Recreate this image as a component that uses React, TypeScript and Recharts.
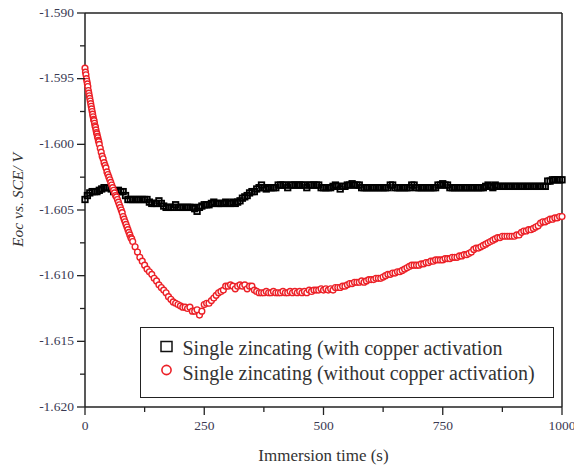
import React from "react";
import { ScatterChart, Scatter, XAxis, YAxis, Legend, Label } from "recharts";

// ---- Data ----
const xTicks = [0, 125, 250, 375, 500, 625, 750, 875, 1000];
const xTopTicks = [100, 200, 300, 400, 500, 600, 700, 800, 900];
const yTicks = [-1.62, -1.6175, -1.615, -1.6125, -1.61, -1.6075, -1.605, -1.6025, -1.6, -1.5975, -1.595, -1.5925, -1.59];
const seriesNames = [
  "Single zincating (with copper activation",
  "Single zincating (without copper activation)",
];

// black: with copper activation, sampled every 5 s from 0 s
const blackStart = 0;
const blackStep = 5;
const blackValues = [
  -1.6042, -1.6039, -1.6037, -1.6036, -1.6036, -1.6036, -1.6035, -1.6034, -1.6033, -1.6033, -1.6033, -1.6034, -1.6036, -1.6036, -1.6035, -1.6036, -1.6036, -1.6039, -1.6042, -1.6042,
  -1.6042, -1.6042, -1.6042, -1.6042, -1.6042, -1.6042, -1.6042, -1.6044, -1.6045, -1.6045, -1.6045, -1.6043, -1.6045, -1.6047, -1.6048, -1.6048, -1.6048, -1.6048, -1.6046, -1.6048,
  -1.6048, -1.6048, -1.6048, -1.6048, -1.6048, -1.6048, -1.6049, -1.6051, -1.6048, -1.6047, -1.6046, -1.6046, -1.6046, -1.6045, -1.6044, -1.6045, -1.6045, -1.6045, -1.6045, -1.6044,
  -1.6045, -1.6045, -1.6044, -1.6045, -1.6044, -1.6043, -1.6041, -1.604, -1.6039, -1.6037, -1.6036, -1.6036, -1.6034, -1.6033, -1.6031, -1.6033, -1.6034, -1.6033, -1.6033, -1.6033,
  -1.6033, -1.6031, -1.6031, -1.6031, -1.6031, -1.6033, -1.6031, -1.6031, -1.6031, -1.6031, -1.6031, -1.6031, -1.6031, -1.6033, -1.6031, -1.6031, -1.6031, -1.6031, -1.6031, -1.6033,
  -1.6033, -1.6033, -1.6033, -1.6033, -1.6032, -1.6031, -1.6032, -1.6034, -1.6032, -1.6032, -1.6031, -1.6031, -1.603, -1.6031, -1.6031, -1.6031, -1.6033, -1.6033, -1.6033, -1.6033,
  -1.6033, -1.6033, -1.6033, -1.6033, -1.6033, -1.6033, -1.6033, -1.6033, -1.6031, -1.6031, -1.6033, -1.6033, -1.6033, -1.6033, -1.6033, -1.6033, -1.6033, -1.6031, -1.6031, -1.6033,
  -1.6033, -1.6033, -1.6033, -1.6033, -1.6033, -1.6033, -1.6033, -1.6033, -1.6031, -1.6031, -1.603, -1.6031, -1.6031, -1.6033, -1.6033, -1.6033, -1.6033, -1.6033, -1.6033, -1.6033,
  -1.6033, -1.6033, -1.6033, -1.6033, -1.6033, -1.6033, -1.6033, -1.6033, -1.6032, -1.6031, -1.6032, -1.6033, -1.6031, -1.6032, -1.6032, -1.6032, -1.6032, -1.6032, -1.6032, -1.6032,
  -1.6032, -1.6032, -1.6032, -1.6032, -1.6032, -1.6032, -1.6032, -1.6032, -1.6032, -1.6032, -1.6032, -1.6032, -1.6032, -1.6032, -1.6028, -1.6028, -1.6027, -1.6027, -1.6027, -1.6027, -1.6027,
];

// red: without copper activation, three sampling segments
const redAStart = 0;
const redAStep = 1;
const redAValues = [
  -1.5942, -1.5945, -1.5947, -1.595, -1.5952, -1.5954, -1.5956, -1.5959, -1.5961, -1.5963,
  -1.5965, -1.5967, -1.5969, -1.5971, -1.5973, -1.5975, -1.5977, -1.5979, -1.5981, -1.5982,
  -1.5984, -1.5986, -1.5987, -1.5989, -1.5991, -1.5992, -1.5994, -1.5995, -1.5997, -1.5998,
];
const redBStart = 30;
const redBStep = 2;
const redBValues = [
  -1.6, -1.6003, -1.6006, -1.6009, -1.6011, -1.6014, -1.6016, -1.6018, -1.6021, -1.6023,
  -1.6025, -1.6027, -1.6029, -1.6031, -1.6033, -1.6035, -1.6037, -1.6039, -1.604, -1.6042,
  -1.6044, -1.6046, -1.6048, -1.605, -1.6052, -1.6055, -1.6057, -1.6059, -1.6061, -1.6063,
  -1.6065, -1.6067, -1.6069, -1.6071, -1.6072,
];
const redCStart = 100;
const redCStep = 5;
const redCValues = [
  -1.6074, -1.6078, -1.6082, -1.6086, -1.6089, -1.6092, -1.6095, -1.6097, -1.6099, -1.6102, -1.6104, -1.6107, -1.6109, -1.6111, -1.6113, -1.6116, -1.6118, -1.612, -1.6121, -1.6122,
  -1.6123, -1.6124, -1.6124, -1.6125, -1.6124, -1.6127, -1.6127, -1.6126, -1.613, -1.6127, -1.6122, -1.6121, -1.6121, -1.6119, -1.6117, -1.6115, -1.6113, -1.6112, -1.6111, -1.6108,
  -1.6108, -1.6107, -1.6108, -1.611, -1.6108, -1.6107, -1.6108, -1.6107, -1.611, -1.6108, -1.6108, -1.6111, -1.6112, -1.6113, -1.6113, -1.6113, -1.6112, -1.6113, -1.6113, -1.6112,
  -1.6113, -1.6113, -1.6113, -1.6112, -1.6113, -1.6113, -1.6112, -1.6113, -1.6112, -1.6113, -1.6112, -1.6113, -1.6112, -1.6113, -1.6111, -1.6112, -1.6111, -1.6111, -1.6111, -1.611,
  -1.6111, -1.611, -1.6111, -1.611, -1.6111, -1.6109, -1.6109, -1.6109, -1.6108, -1.6108, -1.6107, -1.6106, -1.6106, -1.6105, -1.6105, -1.6105, -1.6104, -1.6105, -1.6104, -1.6103,
  -1.6103, -1.6103, -1.6102, -1.6102, -1.6102, -1.6101, -1.61, -1.6099, -1.6099, -1.6098, -1.6098, -1.6097, -1.6097, -1.6096, -1.6095, -1.6094, -1.6093, -1.6092, -1.6092, -1.6092,
  -1.6092, -1.6091, -1.6091, -1.609, -1.609, -1.6089, -1.6089, -1.6088, -1.6088, -1.6088, -1.6088, -1.6087, -1.6087, -1.6087, -1.6086, -1.6086, -1.6086, -1.6085, -1.6085, -1.6084,
  -1.6084, -1.6083, -1.6082, -1.608, -1.6079, -1.6079, -1.6078, -1.6077, -1.6076, -1.6075, -1.6074, -1.6073, -1.6072, -1.6071, -1.6071, -1.607, -1.607, -1.607, -1.607, -1.607,
  -1.607, -1.6069, -1.6069, -1.6067, -1.6066, -1.6066, -1.6065, -1.6065, -1.6064, -1.6063, -1.6062, -1.606, -1.6059, -1.6059, -1.6058, -1.6057, -1.6057, -1.6056, -1.6056, -1.6055, -1.6055,
];

// ---- Build tables ----
const seg = (start: number, step: number, values: number[]) =>
  values.map((v, i) => ({ t: start + i * step, v }));
const blackData = seg(blackStart, blackStep, blackValues);
const redData = [
  ...seg(redAStart, redAStep, redAValues),
  ...seg(redBStart, redBStep, redBValues),
  ...seg(redCStart, redCStep, redCValues),
];

// ---- Styles ----
const FONT = "'Liberation Serif', 'Times New Roman', serif";
const AXIS = "#222";
const TICK_TEXT = "#3a3a52";
const RED = "#ec2027";

const XTick = (props: any) => {
  const { x, y, payload } = props;
  const v = payload.value;
  const major = v % 250 === 0;
  return (
    <g>
      <line x1={x} x2={x} y1={y} y2={y + (major ? 8 : 5)} stroke={AXIS} strokeWidth={1.3} />
      {major && (
        <text x={x} y={y + 23} textAnchor="middle" fontSize={13.5} fontFamily={FONT} fill={TICK_TEXT}>
          {v}
        </text>
      )}
    </g>
  );
};

const TopTick = (props: any) => {
  const { x, y } = props;
  return <line x1={x} x2={x} y1={y} y2={y + 7} stroke={AXIS} strokeWidth={1.3} />;
};

const YTick = (props: any) => {
  const { x, y, payload } = props;
  const v = payload.value;
  const major = Math.abs(v * 200 - Math.round(v * 200)) < 1e-6;
  return (
    <g>
      <line x1={x - (major ? 8 : 5)} x2={x} y1={y} y2={y} stroke={AXIS} strokeWidth={1.3} />
      {major && (
        <text x={x - 11} y={y + 3.5} textAnchor="end" fontSize={13.5} fontFamily={FONT} fill={TICK_TEXT}>
          {v.toFixed(3)}
        </text>
      )}
    </g>
  );
};

const RightTick = (props: any) => {
  const { x, y } = props;
  return <line x1={x - 6} x2={x} y1={y} y2={y} stroke={AXIS} strokeWidth={1.3} />;
};

const SquareShape = (props: any) => {
  const { cx, cy } = props;
  if (cx == null || cy == null) return <g />;
  return <rect x={cx - 2.75} y={cy - 2.75} width={5.5} height={5.5} fill="none" stroke="#000" strokeWidth={1.8} />;
};

const CircleShape = (props: any) => {
  const { cx, cy } = props;
  if (cx == null || cy == null) return <g />;
  return <circle cx={cx} cy={cy} r={2.9} fill="#fff" stroke={RED} strokeWidth={1.4} />;
};

const LegendBox = () => (
  <div
    style={{
      width: "100%",
      height: "100%",
      boxSizing: "border-box",
      border: "1.5px solid #222",
      background: "#fff",
    }}
  >
    <svg width={411} height={68} style={{ display: "block" }}>
      <rect x={20} y={13.5} width={11} height={10} fill="none" stroke="#111" strokeWidth={1.5} />
      <text x={41.5} y={26.5} fontSize={20} fontFamily={FONT} fill="#333">
        {seriesNames[0]}
      </text>
      <circle cx={25.5} cy={42} r={4.6} fill="none" stroke={RED} strokeWidth={1.6} />
      <text x={41.5} y={51.5} fontSize={20} fontFamily={FONT} fill="#333">
        {seriesNames[1]}
      </text>
    </svg>
  </div>
);

const YTitle = (props: any) => {
  const vb = props.viewBox;
  const cx = vb.x + 17;
  const cy = vb.y + vb.height / 2 - 10;
  return (
    <text
      x={cx}
      y={cy}
      transform={`rotate(-90 ${cx} ${cy})`}
      textAnchor="middle"
      dominantBaseline="central"
      fontSize={15.5}
      fontStyle="italic"
      fontFamily={FONT}
      fill="#333"
    >
      Eoc vs. SCE/ V
    </text>
  );
};

const XTitle = (props: any) => {
  const vb = props.viewBox;
  return (
    <text
      x={vb.x + vb.width / 2}
      y={vb.y + 54}
      textAnchor="middle"
      fontSize={17}
      fontFamily={FONT}
      fill="#333"
    >
      Immersion time (s)
    </text>
  );
};

export default function App() {
  return (
    <div style={{ position: "absolute", left: 0, top: 0, background: "#fff" }}>
      <ScatterChart width={574} height={468} margin={{ top: 13, right: 12, bottom: 0, left: 0 }}>
        <XAxis
          xAxisId={0}
          dataKey="t"
          type="number"
          domain={[0, 1000]}
          ticks={xTicks}
          interval={0}
          height={61}
          tickSize={0}
          tickMargin={0}
          tickLine={false}
          tick={XTick}
          axisLine={{ stroke: AXIS, strokeWidth: 1.5 }}
        >
          <Label content={XTitle} />
        </XAxis>
        <XAxis
          xAxisId="top"
          orientation="top"
          mirror
          type="number"
          domain={[0, 1000]}
          ticks={xTopTicks}
          interval={0}
          tickSize={0}
          tickMargin={0}
          tickLine={false}
          tick={TopTick}
          axisLine={{ stroke: AXIS, strokeWidth: 1.5 }}
        />
        <YAxis
          yAxisId={0}
          dataKey="v"
          type="number"
          domain={[-1.62, -1.59]}
          ticks={yTicks}
          interval={0}
          width={85}
          tickSize={0}
          tickMargin={0}
          tickLine={false}
          tick={YTick}
          axisLine={{ stroke: AXIS, strokeWidth: 1.5 }}
          allowDataOverflow
        >
          <Label content={YTitle} />
        </YAxis>
        <YAxis
          yAxisId="right"
          orientation="right"
          mirror
          type="number"
          domain={[-1.62, -1.59]}
          ticks={yTicks}
          interval={0}
          tickSize={0}
          tickMargin={0}
          tickLine={false}
          tick={RightTick}
          axisLine={{ stroke: AXIS, strokeWidth: 1.5 }}
        />
        <Scatter
          name={seriesNames[0]}
          data={blackData}
          xAxisId={0}
          yAxisId={0}
          shape={SquareShape}
          isAnimationActive={false}
        />
        <Scatter
          name={seriesNames[1]}
          data={redData}
          xAxisId={0}
          yAxisId={0}
          shape={CircleShape}
          isAnimationActive={false}
        />
        <Legend
          layout="horizontal"
          verticalAlign="middle"
          align="center"
          content={LegendBox}
          wrapperStyle={{ left: 140, top: 327, width: 414, height: 71 }}
        />
      </ScatterChart>
    </div>
  );
}
